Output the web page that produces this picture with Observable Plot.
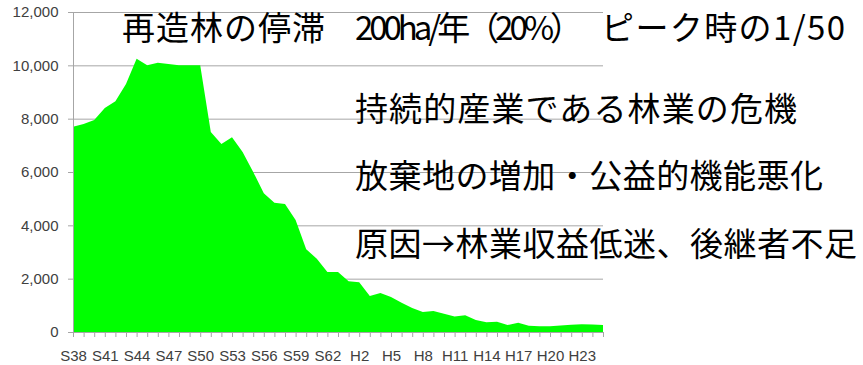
<!DOCTYPE html>
<html><head><meta charset="utf-8">
<script src="https://cdn.jsdelivr.net/npm/d3@7"></script>
<script src="https://cdn.jsdelivr.net/npm/@observablehq/plot@0.6"></script>
<style>
body{margin:0;background:#fff;}
#chart{width:863px;height:365px;}
</style></head><body><div id="chart"></div>
<script>
// Categories (fiscal years, Showa / Heisei)
const labels = ["S38","S39","S40","S41","S42","S43","S44","S45","S46","S47","S48","S49","S50","S51","S52","S53","S54","S55","S56","S57","S58","S59","S60","S61","S62","S63","H1","H2","H3","H4","H5","H6","H7","H8","H9","H10","H11","H12","H13","H14","H15","H16","H17","H18","H19","H20","H21","H22","H23","H24","H25"];
// Reforestation area (ha)
const values = [7700,7800,7950,8400,8650,9300,10250,10000,10100,10050,10000,10000,10000,7500,7050,7300,6750,6000,5200,4850,4800,4200,3100,2750,2250,2250,1900,1870,1350,1460,1310,1100,900,750,790,680,580,630,450,370,380,260,350,230,220,220,240,270,290,280,260];
// Shown tick labels (every third year)
const shownLabels = ["S38","S41","S44","S47","S50","S53","S56","S59","S62","H2","H5","H8","H11","H14","H17","H20","H23"];
const yTicks = [0,2000,4000,6000,8000,10000,12000];
// Annotation texts
const notes = ["再造林の停滞","200ha/年（20%）","ピーク時の1/50","持続的産業である林業の危機","放棄地の増加・公益的機能悪化","原因→林業収益低迷、後継者不足"];

const data = labels.map((l,i)=>({label:l, value:values[i]}));
const grey = "#a6a6a6";

const plot = Plot.plot({
  width:863, height:365,
  marginLeft:73, marginRight:260, marginTop:12, marginBottom:33,
  style:{fontFamily:"'Liberation Sans', Arial, sans-serif", fontSize:"15px", color:"#404040", background:"#fff"},
  x:{type:"point", domain:labels, padding:0, round:false, label:null},
  y:{domain:[0,12000], label:null},
  marks:[
    Plot.gridY(yTicks,{stroke:grey, strokeOpacity:1}),
    Plot.areaY(data,{x:"label", y:"value", fill:"#00ff00"}),
    Plot.ruleY([0],{stroke:grey}),
    Plot.ruleX([labels[0]],{stroke:grey}),
    Plot.axisY(yTicks,{tickSize:5, tickPadding:10, tickFormat:d3.format(","), stroke:grey, fill:"#404040", label:null}),
    Plot.axisX(labels,{tickSize:5, tickFormat:()=>"", stroke:grey, label:null}),
    Plot.axisX(shownLabels,{tickSize:0, tickPadding:18, fill:"#404040", label:null})
  ]
});
document.getElementById("chart").appendChild(plot);

// Annotation layout (pixel placement of the overlaid notes)
const layout = [
  {x:122, y:40, w:203},
  {x:355, y:40, w:228},
  {x:601, y:40, w:244},
  {x:355, y:121, w:442},
  {x:355, y:188, w:468},
  {x:355, y:256, w:502}
];
const svg = d3.select(plot);
notes.forEach((t,i)=>{
  const p = layout[i];
  svg.append("text")
    .attr("x",p.x).attr("y",p.y)
    .attr("text-anchor","start")
    .attr("textLength",p.w).attr("lengthAdjust","spacing")
    .attr("font-family","'Noto Sans CJK JP', sans-serif")
    .attr("font-size",33).attr("fill","#000")
    .text(t);
});
</script></body></html>
